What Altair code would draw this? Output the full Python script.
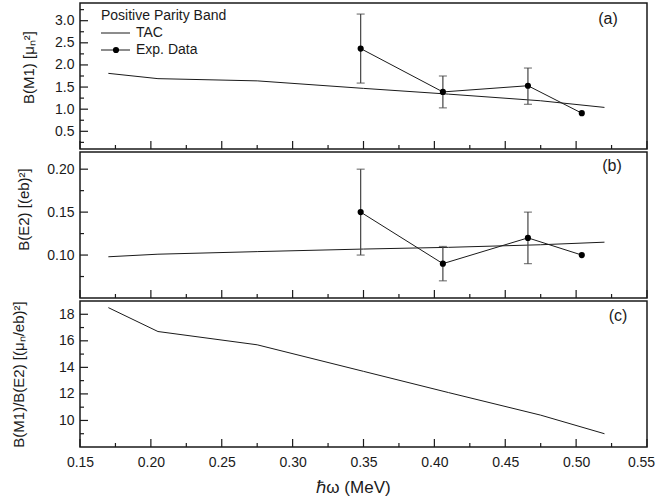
import altair as alt
import pandas as pd

# ---------------- data ----------------
tac_x = [0.17, 0.205, 0.275, 0.35, 0.41, 0.475, 0.52]
tac_bm1 = [1.81, 1.69, 1.64, 1.47, 1.34, 1.19, 1.04]
tac_be2 = [0.098, 0.101, 0.104, 0.107, 0.109, 0.112, 0.115]
tac_ratio = [18.5, 16.7, 15.7, 13.7, 12.1, 10.4, 9.0]

exp_x = [0.348, 0.406, 0.466, 0.504]
exp_bm1 = [2.37, 1.39, 1.53, 0.91]
exp_bm1_lo = [1.59, 1.03, 1.11, None]
exp_bm1_hi = [3.15, 1.75, 1.93, None]
exp_be2 = [0.15, 0.09, 0.12, 0.10]
exp_be2_lo = [0.10, 0.07, 0.09, None]
exp_be2_hi = [0.20, 0.11, 0.15, None]

x_major = [0.15, 0.20, 0.25, 0.30, 0.35, 0.40, 0.45, 0.50, 0.55]
x_minor = [0.175, 0.225, 0.275, 0.325, 0.375, 0.425, 0.475, 0.525]

a_major = [0.5, 1.0, 1.5, 2.0, 2.5, 3.0]
a_minor = [0.25, 0.75, 1.25, 1.75, 2.25, 2.75, 3.25]
b_major = [0.10, 0.15, 0.20]
b_minor = [0.075, 0.125, 0.175]
c_major = [10, 12, 14, 16, 18]
c_minor = [9, 11, 13, 15, 17]

legend_title = ["Positive Parity Band"]
legend_items = ["TAC", "Exp. Data"]
panel_labels = ["(a)", "(b)", "(c)"]

# ---------------- style ----------------
W, H = 567, 146
FONT = "Liberation Sans"
INK = "#1a1a1a"
ERR = "#444444"
xscale = alt.Scale(domain=[0.15, 0.55], nice=False, zero=False)


def build(tac_y, yvals, ylo, yhi, yscale, yaxis, xaxis, ymaj, ymin, lab, lx, ly, extra=()):
    X = lambda f: alt.X(f, scale=xscale, axis=xaxis)
    Y = lambda f: alt.Y(f, scale=yscale, axis=yaxis)
    tac = pd.DataFrame({"x": tac_x, "y": tac_y})
    layers = [alt.Chart(tac).mark_line(color=INK, strokeWidth=1).encode(x=X("x:Q"), y=Y("y:Q"))]
    if yvals is not None:
        ex = pd.DataFrame({"x": exp_x, "y": yvals, "lo": ylo, "hi": yhi})
        err = alt.Chart(ex).transform_filter("isValid(datum.lo)")
        layers += [
            err.mark_rule(color=ERR, strokeWidth=1.2).encode(x=X("x:Q"), y=Y("lo:Q"), y2="hi:Q"),
            err.mark_tick(color=ERR, orient="horizontal", size=8, thickness=1.2).encode(
                x=X("x:Q"), y=Y("lo:Q")),
            err.mark_tick(color=ERR, orient="horizontal", size=8, thickness=1.2).encode(
                x=X("x:Q"), y=Y("hi:Q")),
            alt.Chart(ex).mark_line(color=INK, strokeWidth=1).encode(x=X("x:Q"), y=Y("y:Q")),
            alt.Chart(ex).mark_circle(color="#000000", size=38, opacity=1).encode(
                x=X("x:Q"), y=Y("y:Q")),
        ]
    # inward ticks
    for vals, ln in ((x_major, 8), (x_minor, 4)):
        layers.append(alt.Chart(pd.DataFrame({"t": vals})).mark_rule(color=INK, strokeWidth=1.2).encode(
            x=X("t:Q"), y=alt.value(H), y2=alt.value(H - ln)))
    for vals, ln in ((ymaj, 8), (ymin, 4)):
        layers.append(alt.Chart(pd.DataFrame({"t": vals})).mark_rule(color=INK, strokeWidth=1.2).encode(
            y=Y("t:Q"), x=alt.value(0), x2=alt.value(ln)))
    layers.append(alt.Chart(pd.DataFrame({"l": [lab]})).mark_text(
        font=FONT, fontSize=16, color=INK, align="center", baseline="middle").encode(
        x=alt.value(lx), y=alt.value(ly), text="l:N"))
    layers += list(extra)
    return alt.layer(*layers).properties(width=W, height=H)


def yax(title, fmt, vals, tx, ty):
    return alt.Axis(values=vals, format=fmt, ticks=False, domain=False, grid=False,
                    labelFontSize=14, labelPadding=6, labelColor=INK,
                    title=title, titleFontSize=15, titleFontWeight="normal", titleColor=INK,
                    titleX=tx, titleY=ty)


xaxis_c = alt.Axis(values=x_major, format=".2f", ticks=False, domain=False, grid=False,
                   labelFontSize=14, labelPadding=8, labelColor=INK, labelFlush=False,
                   labelOffset={"condition": {"test": "datum.value >= 0.549", "value": -6},
                                "value": 0},
                   title="ℏω (MeV)", titleFontSize=17, titleFontWeight="normal",
                   titleColor=INK, titleX=273, titleY=32)

# legend for panel (a)
leg = [alt.Chart(pd.DataFrame({"l": legend_title})).mark_text(
    font=FONT, fontSize=14, color=INK, align="left", baseline="middle").encode(
    x=alt.value(21), y=alt.value(13), text="l:N")]
for i, name in enumerate(legend_items):
    yy = 30 + 17 * i
    d = pd.DataFrame({"l": [name]})
    leg.append(alt.Chart(d).mark_rule(color=INK, strokeWidth=1).encode(
        x=alt.value(21), x2=alt.value(50), y=alt.value(yy)))
    leg.append(alt.Chart(d).mark_text(font=FONT, fontSize=14, color=INK, align="left",
                                      baseline="middle").encode(
        x=alt.value(56), y=alt.value(yy), text="l:N"))
    if i == 1:
        leg.append(alt.Chart(d).mark_circle(color="#000000", size=38, opacity=1).encode(
            x=alt.value(36), y=alt.value(yy)))

sa = alt.Scale(domain=[0.1, 3.4], nice=False, zero=False)
chart_a = build(tac_bm1, exp_bm1, exp_bm1_lo, exp_bm1_hi, sa,
                yax("B(M1) [μₙ²]", ".1f", a_major, -44, 64), None,
                a_major, a_minor, panel_labels[0], 528, 16, extra=leg)

sb = alt.Scale(domain=[0.05, 0.22], nice=False, zero=False)
chart_b = build(tac_be2, exp_be2, exp_be2_lo, exp_be2_hi, sb,
                yax("B(E2) [(eb)²]", ".2f", b_major, -49, 57), None,
                b_major, b_minor, panel_labels[1], 532, 14)

sc = alt.Scale(domain=[8, 19], nice=False, zero=False)
chart_c = build(tac_ratio, None, None, None, sc,
                yax("B(M1)/B(E2) [(μₙ/eb)²]", "d", c_major, -54, 73), xaxis_c,
                c_major, c_minor, panel_labels[2], 538, 15)

chart = alt.vconcat(chart_a, chart_b, chart_c, spacing=0).properties(
    padding={"left": 10, "top": 2, "right": 0, "bottom": 4}, background="white"
).configure_view(stroke=INK, strokeWidth=1.5).configure_axis(
    labelFont=FONT, titleFont=FONT
)

chart.save("out.html", embed_options={"renderer": "svg", "actions": False})
